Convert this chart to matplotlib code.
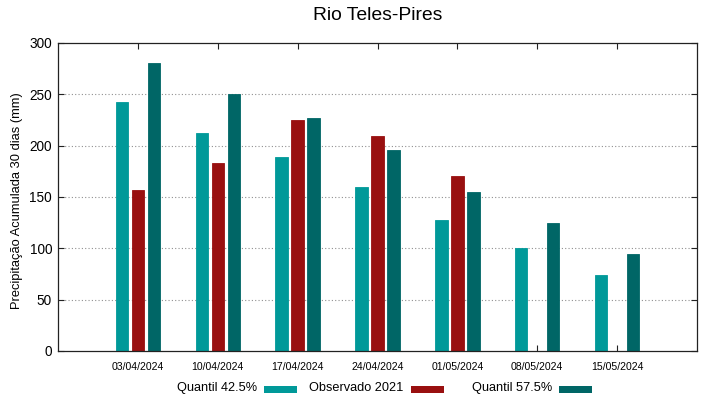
import matplotlib
matplotlib.use('Agg')
import matplotlib.pyplot as plt
import numpy as np
from matplotlib.patches import Rectangle

plt.rcParams['font.family'] = ['Liberation Sans', 'DejaVu Sans']

# data
dates = ['03/04/2024', '10/04/2024', '17/04/2024', '24/04/2024',
         '01/05/2024', '08/05/2024', '15/05/2024']
quantil_425 = [242.5, 212.0, 189.0, 160.0, 127.5, 100.0, 73.7]
observado_2021 = [156.8, 183.4, 225.3, 209.7, 170.8, np.nan, np.nan]
quantil_575 = [280.5, 250.3, 227.0, 195.8, 155.2, 124.3, 94.8]
yticks = [0, 50, 100, 150, 200, 250, 300]

series = [
    ('Quantil 42.5%', quantil_425, '#009999', -0.2),
    ('Observado 2021', observado_2021, '#991010', 0.0),
    ('Quantil 57.5%', quantil_575, '#006666', 0.2),
]

W, H = 719, 399
fig = plt.figure(figsize=(W / 100, H / 100), dpi=100)
ax = fig.add_axes([58 / W, 1 - 351 / H, 639 / W, 308 / H])

x = np.arange(1, len(dates) + 1)
for label, vals, color, off in series:
    ax.bar(x + off, vals, width=0.155, color=color, edgecolor=color,
           linewidth=0.6, zorder=2)

ax.set_xlim(0, 8)
ax.set_ylim(0, 300)
ax.set_xticks(x)
ax.set_xticklabels(dates, fontsize=7.6)
ax.set_yticks(yticks)
ax.tick_params(axis='y', labelsize=9.8, pad=4.3)
ax.tick_params(axis='x', pad=8.2)
ax.tick_params(direction='in', length=4.5, width=0.8, top=True, right=True,
               color='#222222')
for sp in ax.spines.values():
    sp.set_linewidth(0.9)
    sp.set_color('#222222')
    sp.set_zorder(3)

for yv in yticks[1:-1]:
    ax.axhline(yv, color='#909090', linewidth=0.8, linestyle=(0, (1, 2)),
               zorder=1)

ax.set_ylabel('Precipitação Acumulada 30 dias (mm)', fontsize=9.3, va='center')
ax.yaxis.set_label_coords(17 / W, 1 - 201 / H, transform=fig.transFigure)

fig.text(377.5 / W, 1 - 15 / H, 'Rio Teles-Pires', fontsize=13.9,
         ha='center', va='center')

# gnuplot-style legend: text then a colour swatch
text_ends = [257, 403.5, 552]
for (label, vals, color, off), xe in zip(series, text_ends):
    fig.text(xe / W, 1 - 388 / H, label, fontsize=9.2, ha='right',
             va='center')
    fig.patches.append(Rectangle(((xe + 7) / W, 1 - 392.5 / H), 33 / W,
                                 7 / H, transform=fig.transFigure,
                                 facecolor=color, edgecolor='none'))

fig.savefig('out.png', dpi=100)
